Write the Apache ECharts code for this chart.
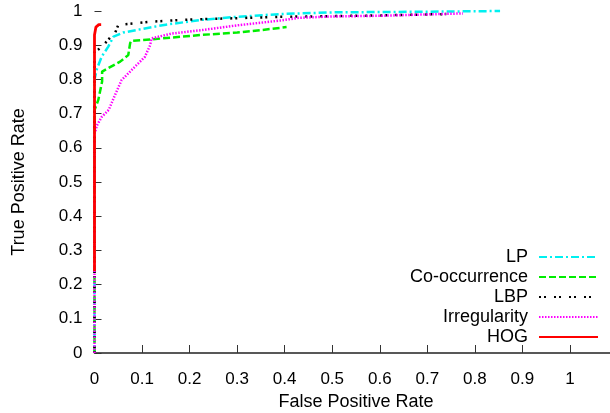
<!DOCTYPE html>
<html>
<head>
<meta charset="utf-8">
<script src="https://cdn.jsdelivr.net/npm/echarts@6/dist/echarts.min.js"></script>
<style>
html,body{margin:0;padding:0;background:#fff;}
#chart{width:610px;height:413px;}
</style>
</head>
<body>
<div id="chart"></div>
<script>
// ROC curves: [false positive rate, true positive rate]
const seriesNames = ['LP', 'Co-occurrence', 'LBP', 'Irregularity', 'HOG'];
const lpPoints = [[0,0],[0,0.8],[0.005,0.83],[0.015,0.866],[0.029,0.896],[0.04,0.925],[0.06,0.937],[0.106,0.949],[0.15,0.96],[0.225,0.974],[0.3,0.983],[0.39,0.991],[0.5,0.996],[0.6,0.997],[0.7,0.998],[0.853,1.0]];
const coocPoints = [[0,0],[0,0.71],[0.008,0.74],[0.016,0.794],[0.016,0.823],[0.029,0.833],[0.054,0.852],[0.071,0.871],[0.075,0.906],[0.078,0.913],[0.12,0.917],[0.225,0.93],[0.3,0.937],[0.35,0.944],[0.404,0.953]];
const lbpPoints = [[0,0],[0,0.88],[0.012,0.891],[0.021,0.904],[0.036,0.927],[0.043,0.935],[0.05,0.959],[0.085,0.964],[0.12,0.969],[0.148,0.971],[0.2,0.975],[0.3,0.979],[0.39,0.983],[0.5,0.985],[0.6,0.987],[0.7,0.99],[0.74,0.991]];
const irrPoints = [[0,0],[0,0.64],[0.005,0.665],[0.015,0.69],[0.03,0.711],[0.043,0.754],[0.057,0.798],[0.085,0.837],[0.106,0.866],[0.117,0.9],[0.12,0.92],[0.162,0.934],[0.225,0.944],[0.3,0.958],[0.39,0.972],[0.43,0.98],[0.5,0.984],[0.6,0.986],[0.7,0.99],[0.775,0.993]];
const hogPoints = [[0,0.24],[0,0.93],[0.003,0.935],[0.003,0.953],[0.009,0.96],[0.014,0.96]];
const xTicks = [0,0.1,0.2,0.3,0.4,0.5,0.6,0.7,0.8,0.9,1];
const yTicks = [0,0.1,0.2,0.3,0.4,0.5,0.6,0.7,0.8,0.9,1];

const FONT = '"Liberation Sans", Arial, sans-serif';
const chart = echarts.init(document.getElementById('chart'), null, {renderer: 'canvas'});
const styles = [
  {color: '#00f0f0', type: [8,3,2,3], width: 2.5},
  {color: '#00ee00', type: [7,3], width: 2.5},
  {color: '#000000', type: [2,3,2,8], width: 2.5},
  {color: '#ff00ff', type: [1.5,1.5], width: 2.5},
  {color: '#ff0000', type: 'solid', width: 2.8}
];
const pointSets = [lpPoints, coocPoints, lbpPoints, irrPoints, hogPoints];
const fmt = v => (v > 1.05 ? '' : String(+v.toFixed(1)));

chart.setOption({
  animation: false,
  backgroundColor: '#ffffff',
  grid: {left: 94.5, top: 11, width: 523, height: 342, containLabel: false, outerBoundsMode: 'none'},
  xAxis: {
    type: 'value', min: 0, max: 1.1, interval: 0.1,
    name: 'False Positive Rate', nameLocation: 'middle', nameGap: 36,
    nameTextStyle: {fontFamily: FONT, fontSize: 18, color: '#000'},
    axisLine: {show: true, lineStyle: {color: '#222', width: 1.5}},
    axisTick: {show: true, inside: true, length: 8, lineStyle: {color: '#333'}},
    axisLabel: {fontFamily: FONT, fontSize: 17, color: '#000', margin: 18, formatter: fmt},
    splitLine: {show: false}
  },
  yAxis: {
    type: 'value', min: 0, max: 1, interval: 0.1,
    name: 'True Positive Rate', nameLocation: 'middle', nameGap: 66,
    nameTextStyle: {fontFamily: FONT, fontSize: 18, color: '#000'},
    axisLine: {show: true, lineStyle: {color: 'rgba(0,0,0,0)', width: 1}},
    axisTick: {show: true, inside: true, length: 7, lineStyle: {color: '#333'}},
    axisLabel: {fontFamily: FONT, fontSize: 17, color: '#000', margin: 12, formatter: fmt},
    splitLine: {show: false}
  },
  legend: {
    orient: 'vertical', align: 'right', right: 11, top: 248, padding: 0,
    itemWidth: 59, itemHeight: 14, itemGap: 2,
    itemStyle: {opacity: 0},
    textStyle: {fontFamily: FONT, fontSize: 18, color: '#000', padding: [0, 6, 0, 0]},
    data: seriesNames
  },
  series: seriesNames.map((n, i) => ({
    name: n, type: 'line', data: pointSets[i], symbol: 'none',
    lineStyle: {color: styles[i].color, type: styles[i].type, width: styles[i].width, cap: 'butt'},
    itemStyle: {color: styles[i].color},
    clip: false
  }))
});
</script>
</body>
</html>
